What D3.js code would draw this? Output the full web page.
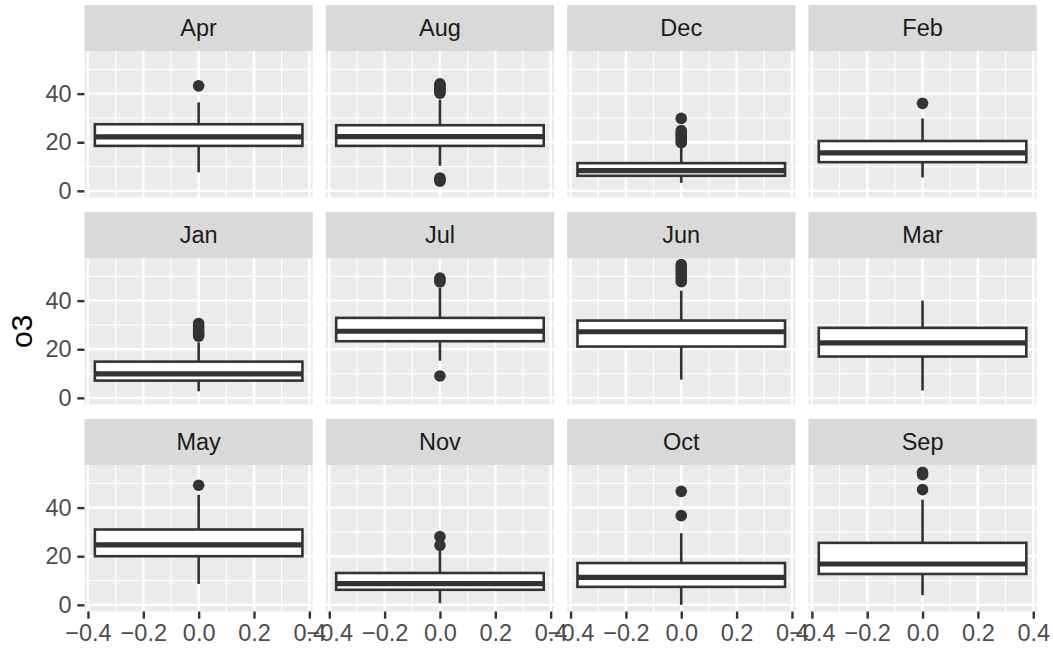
<!DOCTYPE html>
<html lang="en">
<head>
<meta charset="UTF-8">
<script src="https://d3js.org/d3.v7.min.js"></script>
<title>o3 by month</title>
<style>
  body { margin: 0; background: #fff; }
  svg text { font-family: "Liberation Sans", Arial, Helvetica, sans-serif; }
</style>
</head>
<body>
<div id="app"></div>
<script>
// panel order as in the facets (alphabetical)
const months = ["Apr", "Aug", "Dec", "Feb", "Jan", "Jul", "Jun", "Mar", "May", "Nov", "Oct", "Sep"];
const q1     = [18.5, 18.5,  6.2, 11.8,  7.1, 23.3, 21.1, 17.0, 20.0,  6.2,  7.4, 12.7];
const median = [22.2, 22.3,  8.3, 15.6,  9.9, 27.4, 27.2, 22.6, 24.7,  8.7, 11.3, 16.8];
const q3     = [27.4, 27.0, 11.4, 20.5, 14.9, 32.9, 31.8, 28.8, 31.0, 13.1, 17.2, 25.5];
const whiskerLow  = [7.6, 10.3, 3.3,  5.5,  2.7, 15.3,  7.5,  3.0,  8.6,  0.7,  0.0,  4.0];
const whiskerHigh = [36.4, 37.5, 18.5, 29.8, 22.8, 45.2, 44.1, 40.0, 45.3, 22.3, 29.5, 43.3];
const outliers = [
  [43.2],
  [44.0, 43.2, 42.3, 41.5, 40.8, 40.2, 5.3, 4.6, 4.0],
  [29.8, 24.8, 24.0, 23.2, 22.3, 21.5, 20.6, 19.8],
  [36.0],
  [30.6, 29.5, 28.4, 27.2, 26.2, 25.4],
  [49.3, 48.5, 47.7, 9.0],
  [54.8, 53.8, 52.6, 51.4, 50.2, 49.0, 47.8],
  [],
  [49.2],
  [28.1, 24.5],
  [46.7, 36.7],
  [54.5, 53.6, 47.4]
];

const yMajor = [0, 20, 40];
const yMinor = [10, 30, 50];
const xMajor = [-0.4, -0.2, 0, 0.2, 0.4];
const xMinor = [-0.3, -0.1, 0.1, 0.3];

const width = 1053, height = 649;
const ncol = 4;
const marginLeft = 84.5, marginRight = 16.3, marginTop = 5;
const colGap = 13, rowPitch = 207;
const stripH = 46, panelH = 146.5;
const panelW = (width - marginLeft - marginRight - colGap * (ncol - 1)) / ncol;
const boxHalf = 0.375;
const nrow = Math.ceil(months.length / ncol);
const fontSmall = 23.5;

const svg = d3.select('#app').append('svg')
  .attr('width', width)
  .attr('height', height);

// y range with ggplot's 5% expansion
const yMin = d3.min(whiskerLow);
const yMax = d3.max(outliers.flat().concat(whiskerHigh));
const yPad = (yMax - yMin) * 0.05;
const y = d3.scaleLinear().domain([yMin - yPad, yMax + yPad]).range([panelH, 0]);
const xPad = boxHalf * 2 * 0.05;
const x = d3.scaleLinear().domain([-boxHalf - xPad, boxHalf + xPad]).range([0, panelW]);

months.forEach(function (m, i) {
  const col = i % ncol, row = Math.floor(i / ncol);
  const px = marginLeft + col * (panelW + colGap);
  const py = marginTop + row * rowPitch;

  const strip = svg.append('g').attr('transform', 'translate(' + px + ',' + py + ')');
  strip.append('rect').attr('width', panelW).attr('height', stripH).attr('fill', '#d9d9d9');
  strip.append('text')
    .attr('x', panelW / 2).attr('y', stripH / 2).attr('dy', '0.36em')
    .attr('text-anchor', 'middle')
    .attr('font-size', fontSmall).attr('fill', '#1a1a1a')
    .text(m);

  const g = svg.append('g').attr('transform', 'translate(' + px + ',' + (py + stripH) + ')');
  g.append('rect').attr('width', panelW).attr('height', panelH).attr('fill', '#ebebeb');

  // grid
  g.selectAll('.ymin').data(yMinor).enter().append('line')
    .attr('x1', 0).attr('x2', panelW).attr('y1', d => y(d)).attr('y2', d => y(d))
    .attr('stroke', '#fff').attr('stroke-width', 1.2);
  g.selectAll('.xmin').data(xMinor).enter().append('line')
    .attr('y1', 0).attr('y2', panelH).attr('x1', d => x(d)).attr('x2', d => x(d))
    .attr('stroke', '#fff').attr('stroke-width', 1.2);
  g.selectAll('.ymaj').data(yMajor).enter().append('line')
    .attr('x1', 0).attr('x2', panelW).attr('y1', d => y(d)).attr('y2', d => y(d))
    .attr('stroke', '#fff').attr('stroke-width', 2.4);
  g.selectAll('.xmaj').data(xMajor).enter().append('line')
    .attr('y1', 0).attr('y2', panelH).attr('x1', d => x(d)).attr('x2', d => x(d))
    .attr('stroke', '#fff').attr('stroke-width', 2.4);

  // outliers, whiskers, box
  g.selectAll('circle').data(outliers[i]).enter().append('circle')
    .attr('cx', x(0)).attr('cy', d => y(d)).attr('r', 5.8)
    .attr('fill', '#333333');
  g.append('line')
    .attr('x1', x(0)).attr('x2', x(0)).attr('y1', y(q3[i])).attr('y2', y(whiskerHigh[i]))
    .attr('stroke', '#333333').attr('stroke-width', 2.6);
  g.append('line')
    .attr('x1', x(0)).attr('x2', x(0)).attr('y1', y(q1[i])).attr('y2', y(whiskerLow[i]))
    .attr('stroke', '#333333').attr('stroke-width', 2.6);
  g.append('rect')
    .attr('x', x(-boxHalf)).attr('y', y(q3[i]))
    .attr('width', x(boxHalf) - x(-boxHalf)).attr('height', y(q1[i]) - y(q3[i]))
    .attr('fill', '#fff').attr('stroke', '#333333').attr('stroke-width', 2.6);
  g.append('line')
    .attr('x1', x(-boxHalf)).attr('x2', x(boxHalf)).attr('y1', y(median[i])).attr('y2', y(median[i]))
    .attr('stroke', '#333333').attr('stroke-width', 5.2);

  if (col === 0) {
    const ya = g.append('g').call(d3.axisLeft(y).tickValues(yMajor).tickSize(7.2).tickPadding(5.7));
    styleAxis(ya);
  }
  if (row === nrow - 1) {
    const xa = g.append('g').attr('transform', 'translate(0,' + panelH + ')')
      .call(d3.axisBottom(x).tickValues(xMajor).tickFormat(d3.format('.1f')).tickSize(7.2).tickPadding(5.7));
    styleAxis(xa);
  }
});

function styleAxis(a) {
  a.select('.domain').remove();
  a.selectAll('line').attr('stroke', '#333333').attr('stroke-width', 2.4);
  a.selectAll('text').attr('fill', '#4d4d4d').attr('font-size', fontSmall)
    .attr('font-family', '"Liberation Sans", Arial, Helvetica, sans-serif');
}

// y axis title
const panelTop = marginTop + stripH;
const panelBottom = marginTop + (nrow - 1) * rowPitch + stripH + panelH;
svg.append('text')
  .attr('transform', 'translate(32,' + ((panelTop + panelBottom) / 2) + ') rotate(-90)')
  .attr('text-anchor', 'middle')
  .attr('font-size', 30).attr('fill', '#000')
  .text('o3');
</script>
</body>
</html>
